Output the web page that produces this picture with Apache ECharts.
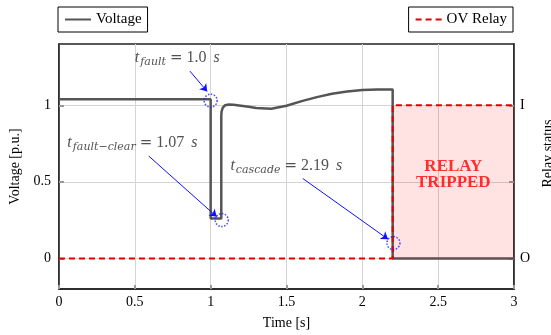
<!DOCTYPE html>
<html>
<head>
<meta charset="utf-8">
<script src="https://cdn.jsdelivr.net/npm/echarts@6/dist/echarts.min.js"></script>
<style>
  html, body { margin: 0; padding: 0; background: #fff; }
  #main { width: 551px; height: 335px; }
</style>
</head>
<body>
<div id="main"></div>
<script>
// voltage trace (time in s, voltage in p.u.)
var timeV = [0, 1.0, 1.0, 1.07, 1.07, 1.072, 1.08, 1.095, 1.12, 1.15, 1.2, 1.25, 1.3, 1.4, 1.5, 1.6, 1.7, 1.8, 1.9, 2.0, 2.1, 2.2, 2.2, 3.0];
var voltage = [1.04, 1.04, 0.26, 0.26, 0.93, 0.96, 0.985, 1.0, 1.005, 1.004, 0.997, 0.99, 0.982, 0.977, 0.997, 1.027, 1.053, 1.075, 1.09, 1.1, 1.103, 1.103, 0, 0];
// relay status (0 = open, 1 = tripped)
var timeR = [0, 2.2, 2.2, 3.0];
var relay = [0, 0, 1, 1];

var yTicks = [0, 0.5, 1];
var relayTicks = [0, 1];
var relayNames = {0: 'O', 1: 'I'};

// annotation points (dotted circles), arrows and text
var markT = [1.0, 1.073, 2.205];
var markV = [1.03, 0.25, 0.1];
var arrowFrom = [[0.863, 1.223], [0.592, 0.668], [1.607, 0.522]];
var arrowTo = [[0.977, 1.09], [1.04, 0.272], [2.17, 0.125]];
var noteT = [0.5, 0.055, 1.13];
var noteV = [1.307, 0.752, 0.602];
var noteSub = ['fault', 'fault\u2212clear', 'cascade'];
var noteVal = ['1.0', '1.07', '2.19'];

var serif = 'Liberation Serif';

function pairs(xs, ys) {
  return xs.map(function (x, i) { return [x, ys[i]]; });
}

var legendBox = {
  top: 7, padding: [5, 6, 5, 6],
  borderColor: '#000', borderWidth: 1, borderRadius: 0,
  itemWidth: 26, itemHeight: 10,
  itemStyle: { opacity: 0 },
  textStyle: { fontFamily: serif, fontSize: 15, color: '#000' }
};

var chart = echarts.init(document.getElementById('main'));
chart.setOption({
  animation: false,
  textStyle: { fontFamily: serif },
  legend: [
    Object.assign({ data: ['Voltage'], left: 58 }, legendBox),
    Object.assign({ data: ['OV Relay'], right: 38 }, legendBox)
  ],
  grid: {
    left: 59, right: 37, top: 44, bottom: 46,
    outerBoundsMode: 'none',
    show: true, borderColor: '#222', borderWidth: 1.5
  },
  xAxis: {
    type: 'value', min: 0, max: 3, interval: 0.5,
    name: 'Time [s]', nameLocation: 'middle', nameGap: 27,
    nameTextStyle: { fontFamily: serif, fontSize: 14, color: '#000' },
    axisLine: { show: true, onZero: false, lineStyle: { color: '#222', width: 1.5 } },
    axisTick: { show: true, inside: true, length: 4, lineStyle: { color: '#999', width: 2 } },
    axisLabel: { fontFamily: serif, fontSize: 14, color: '#000', margin: 6 },
    splitLine: { show: true, lineStyle: { color: '#d4d4d4', width: 1 } }
  },
  yAxis: [
    {
      type: 'value', min: -0.2, max: 1.4,
      name: 'Voltage [p.u.]', nameLocation: 'middle', nameGap: 31,
      nameTextStyle: { fontFamily: serif, fontSize: 14, color: '#000' },
      axisLine: { show: true, onZero: false, lineStyle: { color: '#222', width: 1.5 } },
      axisTick: { show: true, inside: true, length: 5, customValues: yTicks, lineStyle: { color: '#999', width: 2 } },
      axisLabel: { fontFamily: serif, fontSize: 14, color: '#000', margin: 8, customValues: yTicks },
      splitLine: { show: false }
    },
    {
      type: 'value', min: -0.2, max: 1.4, position: 'right',
      name: 'Relay status', nameLocation: 'middle', nameGap: 26, nameRotate: 90,
      nameTextStyle: { fontFamily: serif, fontSize: 14, color: '#000', padding: [0, 0, 0, 26] },
      axisLine: { show: true, onZero: false, lineStyle: { color: '#222', width: 1.5 } },
      axisTick: { show: true, inside: true, length: 5, customValues: yTicks, lineStyle: { color: '#999', width: 2 } },
      axisLabel: {
        fontFamily: serif, fontSize: 14, color: '#000', margin: 6, customValues: relayTicks,
        formatter: function (v) { return relayNames[v]; }
      },
      splitLine: { show: false }
    }
  ],
  series: [
    {
      // horizontal grid lines
      name: 'grid', type: 'line', data: [], silent: true, z: 0,
      markLine: {
        z: 0, silent: true, symbol: 'none', label: { show: false },
        lineStyle: { color: '#d4d4d4', width: 1, type: 'solid' },
        data: yTicks.map(function (v) { return { yAxis: v }; })
      }
    },
    {
      name: 'Voltage', type: 'line', data: pairs(timeV, voltage),
      showSymbol: false, symbol: 'none', z: 3,
      lineStyle: { color: '#555', width: 2.5 },
      itemStyle: { color: '#555' }
    },
    {
      name: 'OV Relay', type: 'line', data: pairs(timeR, relay),
      showSymbol: false, symbol: 'none', z: 4,
      lineStyle: { color: '#e00000', width: 2, type: [6, 4] },
      itemStyle: { color: '#e00000' },
      areaStyle: { color: 'rgba(255, 0, 0, 0.16)' }
    },
    {
      name: 'marks', type: 'scatter', data: pairs(markT, markV), z: 6,
      symbol: 'circle', symbolSize: 13, silent: true,
      itemStyle: { color: 'rgba(0,0,0,0)', borderColor: '#2020ff', borderWidth: 1.5, borderType: 'dotted' }
    },
    {
      name: 'arrows', type: 'lines', coordinateSystem: 'cartesian2d', z: 6, silent: true,
      symbol: ['none', 'arrow'], symbolSize: 7,
      lineStyle: { color: '#1010ff', width: 1, opacity: 1 },
      data: arrowFrom.map(function (p, i) { return { coords: [p, arrowTo[i]] }; })
    },
    {
      name: 'notes', type: 'scatter', symbolSize: 0, z: 7, silent: true,
      data: pairs(noteT, noteV).map(function (p, i) {
        return { value: p, sub: noteSub[i], val: noteVal[i] };
      }),
      label: {
        show: true, position: 'right', distance: 0,
        formatter: function (p) {
          return '{t|t}{s|' + p.data.sub + '}{eq|=}{n|' + p.data.val + '}{u|s}';
        },
        rich: {
          t: { fontFamily: serif, fontStyle: 'italic', fontSize: 16, color: '#262626' },
          s: { fontFamily: 'DejaVu Serif', fontStyle: 'italic', fontSize: 11, color: '#262626', padding: [7, 0, 0, 1] },
          eq: { fontFamily: 'DejaVu Serif', fontSize: 15, color: '#262626', padding: [0, 4, 0, 4] },
          n: { fontFamily: serif, fontSize: 16, color: '#262626' },
          u: { fontFamily: serif, fontStyle: 'italic', fontSize: 16, color: '#262626', padding: [0, 0, 0, 7] }
        }
      }
    },
    {
      name: 'tripped', type: 'scatter', symbolSize: 0, z: 7, silent: true,
      data: [[2.6, 0.55]],
      label: {
        show: true, position: 'inside', formatter: 'RELAY\nTRIPPED',
        fontFamily: serif, fontWeight: 'bold', fontSize: 17, color: '#ff0000', lineHeight: 16, align: 'center'
      }
    }
  ]
});
</script>
</body>
</html>
